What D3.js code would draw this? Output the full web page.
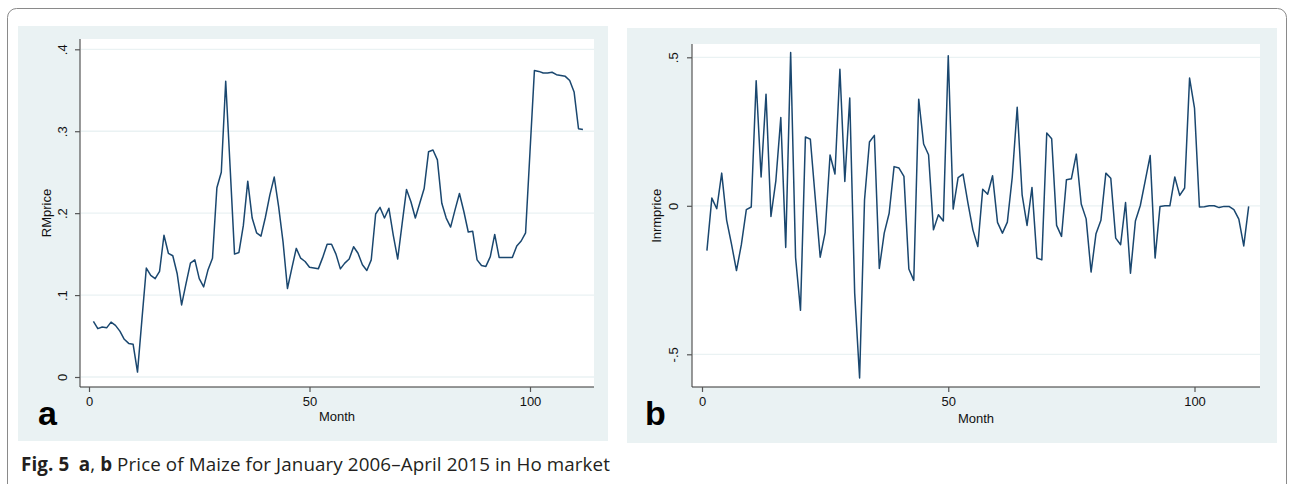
<!DOCTYPE html>
<html>
<head>
<meta charset="utf-8">
<script src="https://cdn.jsdelivr.net/npm/d3@7/dist/d3.min.js"></script>
<style>
html,body{margin:0;padding:0;background:#fff;}
svg{display:block;}
</style>
</head>
<body>
<svg id="chart" width="1293" height="484"></svg>
<script>
// ---- Data ----
const rmMonths = d3.range(1, 113);
const rmPrice = [
0.068,0.059,0.061,0.060,0.067,0.063,0.056,0.046,0.041,0.040,
0.006,0.070,0.133,0.124,0.120,0.129,0.173,0.151,0.148,0.126,
0.088,0.114,0.139,0.143,0.120,0.110,0.131,0.145,0.231,0.250,
0.361,0.256,0.150,0.152,0.185,0.239,0.194,0.176,0.172,0.195,
0.222,0.244,0.208,0.165,0.108,0.133,0.157,0.145,0.141,0.134,
0.133,0.132,0.146,0.162,0.162,0.150,0.132,0.139,0.144,0.159,
0.151,0.137,0.130,0.143,0.199,0.207,0.194,0.206,0.173,0.144,
0.187,0.229,0.214,0.194,0.212,0.230,0.275,0.277,0.265,0.212,
0.194,0.183,0.204,0.224,0.202,0.177,0.178,0.143,0.136,0.135,
0.147,0.174,0.146,0.146,0.146,0.146,0.160,0.166,0.176,0.275,
0.374,0.373,0.371,0.371,0.372,0.369,0.368,0.367,0.362,0.348,
0.303,0.302
];
const lnMonths = d3.range(1, 112);
const lnrmPrice = [
-0.151,0.026,-0.010,0.110,-0.048,-0.130,-0.218,-0.130,-0.013,-0.004,
0.421,0.097,0.376,-0.036,0.085,0.297,-0.140,0.516,-0.174,-0.352,
0.232,0.224,0.025,-0.173,-0.090,0.171,0.107,0.460,0.082,0.363,
-0.294,-0.580,0.020,0.215,0.237,-0.211,-0.092,-0.025,0.132,0.127,
0.099,-0.213,-0.251,0.359,0.208,0.172,-0.081,-0.030,-0.051,0.505,
-0.011,0.095,0.107,0.009,-0.081,-0.137,0.056,0.039,0.101,-0.056,
-0.092,-0.055,0.097,0.332,0.037,-0.066,0.062,-0.176,-0.182,0.245,
0.226,-0.066,-0.103,0.088,0.091,0.174,0.006,-0.044,-0.223,-0.094,
-0.049,0.110,0.093,-0.109,-0.131,0.011,-0.227,-0.051,0.001,0.085,
0.169,-0.176,-0.002,0.000,0.000,0.097,0.035,0.060,0.430,0.329,
-0.004,-0.003,0.000,0.000,-0.006,-0.002,-0.002,-0.013,-0.045,-0.135,
-0.002
];
const leftYTicks = [0, 0.1, 0.2, 0.3, 0.4];
const leftYLabels = ["0", ".1", ".2", ".3", ".4"];
const rightYTicks = [-0.5, 0, 0.5];
const rightYLabels = ["-.5", "0", ".5"];
const xTicks = [0, 50, 100];
const xLabels = ["0", "50", "100"];
const caption = {bold: "Fig. 5", rest: " Price of Maize for January 2006\u2013April 2015 in Ho market"};

// ---- Drawing ----
const svg = d3.select("#chart");
const LINE = "#1a476f", BG = "#eaf2f3", FONT = "'Liberation Sans', Arial, sans-serif";

// outer rounded frame
svg.append("rect").attr("x", 7.5).attr("y", 8.5).attr("width", 1279).attr("height", 490)
  .attr("rx", 9).attr("fill", "#fff").attr("stroke", "#8a8a8a").attr("stroke-width", 1);

function panel(cfg) {
  const g = svg.append("g");
  g.append("rect").attr("x", cfg.bg[0]).attr("y", cfg.bg[1])
    .attr("width", cfg.bg[2] - cfg.bg[0]).attr("height", cfg.bg[3] - cfg.bg[1]).attr("fill", BG);
  g.append("rect").attr("x", cfg.plot[0]).attr("y", cfg.plot[1])
    .attr("width", cfg.plot[2] - cfg.plot[0]).attr("height", cfg.plot[3] - cfg.plot[1]).attr("fill", "#fff");

  const x = d3.scaleLinear().domain([0, 100]).range(cfg.xr);
  const y = d3.scaleLinear().domain(cfg.yd).range(cfg.yr);

  // grid
  g.selectAll(".grid").data(cfg.yTicks).enter().append("line")
    .attr("x1", cfg.plot[0] + 1).attr("x2", cfg.plot[2])
    .attr("y1", d => y(d)).attr("y2", d => y(d))
    .attr("stroke", BG).attr("stroke-width", 1.3);

  // y axis
  const yAxis = d3.axisLeft(y).tickValues(cfg.yTicks).tickSize(5)
    .tickFormat((d, i) => cfg.yLabels[i]);
  const ga = g.append("g").attr("transform", `translate(${cfg.plot[0]},0)`).call(yAxis);
  ga.select(".domain").attr("stroke", "#555").attr("stroke-width", 1.2).attr("d", `M0,${cfg.plot[1]}V${cfg.plot[3]}`);
  ga.selectAll(".tick line").attr("stroke", "#555").attr("stroke-width", 1.2);
  ga.selectAll(".tick text").attr("font-family", FONT).attr("font-size", 13).attr("fill", "#111")
    .attr("x", null).attr("dy", null)
    .attr("text-anchor", "middle")
    .attr("transform", `translate(${cfg.ytx - cfg.plot[0]},0) rotate(-90)`)
    .attr("y", 0);

  // x axis
  const xAxis = d3.axisBottom(x).tickValues(xTicks).tickSize(5)
    .tickFormat((d, i) => xLabels[i]);
  const gx = g.append("g").attr("transform", `translate(0,${cfg.plot[3]})`).call(xAxis);
  gx.select(".domain").attr("d", `M${cfg.plot[0]},0H${cfg.plot[2]}`).attr("stroke", "#333").attr("stroke-width", 1.2);
  gx.selectAll(".tick line").attr("stroke", "#555").attr("stroke-width", 1.2);
  gx.selectAll(".tick text").attr("font-family", FONT).attr("font-size", 13).attr("fill", "#111")
    .attr("y", 10).attr("dy", "0.71em");

  // titles
  g.append("text").attr("font-family", FONT).attr("font-size", 13).attr("fill", "#111")
    .attr("text-anchor", "middle")
    .attr("transform", `translate(${cfg.ytitleX},${(cfg.plot[1] + cfg.plot[3]) / 2}) rotate(-90)`)
    .text(cfg.ytitle);
  g.append("text").attr("font-family", FONT).attr("font-size", 13).attr("fill", "#111")
    .attr("text-anchor", "middle")
    .attr("x", (cfg.plot[0] + cfg.plot[2]) / 2).attr("y", cfg.xtitleY)
    .text("Month");
  g.append("text").attr("font-family", FONT).attr("font-size", 34).attr("font-weight", "bold")
    .attr("fill", "#000").attr("x", cfg.letter[0]).attr("y", cfg.letter[1]).text(cfg.letterText);

  // series
  const line = d3.line().x(d => x(d[0])).y(d => y(d[1]));
  g.append("path").datum(cfg.months.map((m, i) => [m, cfg.values[i]]))
    .attr("d", line).attr("fill", "none").attr("stroke", LINE).attr("stroke-width", 1.5)
    .attr("stroke-linejoin", "round");
}

panel({
  bg: [18, 26, 608, 441], plot: [80, 39, 594, 387],
  xr: [89, 530], yd: [0, 0.4], yr: [377, 49.3],
  yTicks: leftYTicks, yLabels: leftYLabels, ytx: 67,
  ytitle: "RMprice", ytitleX: 51, xtitleY: 421,
  letter: [38, 425], letterText: "a",
  months: rmMonths, values: rmPrice
});
panel({
  bg: [627, 28, 1277, 443], plot: [692, 44, 1260, 387],
  xr: [702, 1194.5], yd: [-0.5, 0.5], yr: [354.3, 57.3],
  yTicks: rightYTicks, yLabels: rightYLabels, ytx: 678,
  ytitle: "lnrmprice", ytitleX: 661, xtitleY: 423,
  letter: [645, 425], letterText: "b",
  months: lnMonths, values: lnrmPrice
});

// caption
const cap = svg.append("text").attr("x", 21).attr("y", 471)
  .attr("font-family", "'Open Sans', 'Noto Sans', sans-serif").attr("font-size", 18.8)
  .attr("letter-spacing", 0.1).attr("fill", "#231f20");
cap.append("tspan").attr("font-weight", "bold").text(caption.bold);
cap.append("tspan").text("\u2002");
cap.append("tspan").attr("font-weight", "bold").text("a");
cap.append("tspan").text(", ");
cap.append("tspan").attr("font-weight", "bold").text("b");
cap.append("tspan").text(caption.rest);
</script>
</body>
</html>
